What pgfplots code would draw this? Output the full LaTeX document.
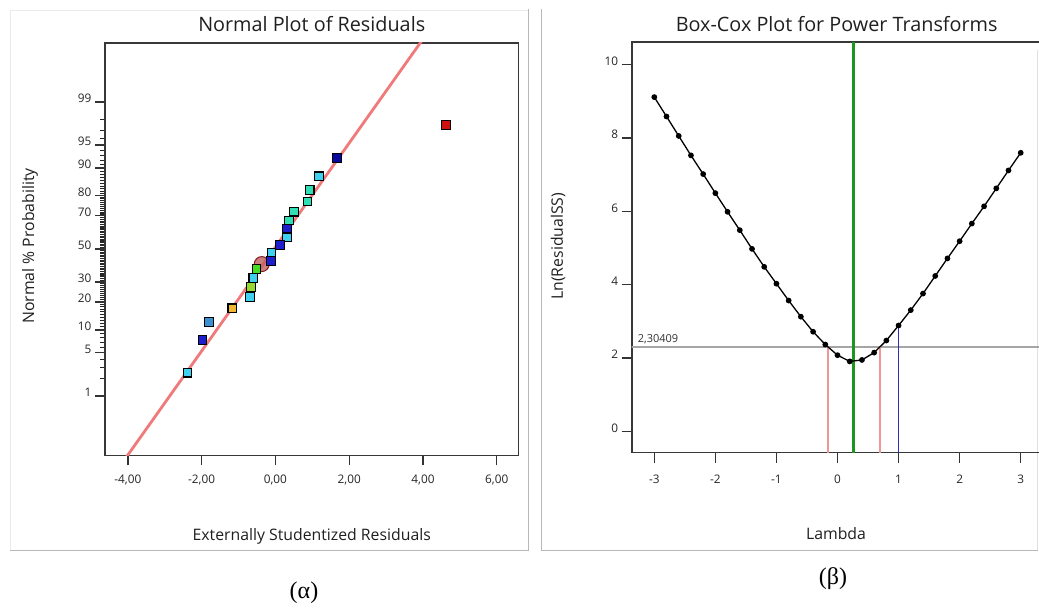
\documentclass[border=0pt]{standalone}
\usepackage{pgfplots}
\pgfplotsset{compat=1.18}
\usepackage{fontspec}
\setmainfont{Open Sans}
\newfontfamily\greekserif{Liberation Serif}
\definecolor{redline}{RGB}{240,122,122}
\definecolor{ccyan}{RGB}{64,208,240}
\definecolor{cblue}{RGB}{30,30,205}
\definecolor{csteel}{RGB}{58,144,208}
\definecolor{corange}{RGB}{240,184,48}
\definecolor{cygreen}{RGB}{150,216,48}
\definecolor{cgreen}{RGB}{64,224,32}
\definecolor{cturq}{RGB}{48,224,180}
\definecolor{cdblue}{RGB}{8,8,160}
\definecolor{cred}{RGB}{208,16,16}
\definecolor{circfill}{RGB}{190,95,95}
\definecolor{circdraw}{RGB}{130,30,30}
\definecolor{bcgreen}{RGB}{30,150,30}
\definecolor{bcpink}{RGB}{240,150,150}
\definecolor{bcblue}{RGB}{45,45,190}
\definecolor{bcgray}{RGB}{165,165,165}
\begin{document}
\begin{tikzpicture}
\useasboundingbox (0pt,0pt) rectangle (1039pt,610pt);
% panel frames
\draw[black!8, line width=0.8pt] (10pt,60pt) -- (10pt,600pt) -- (528.5pt,600pt);
\draw[black!28, line width=0.9pt] (10pt,60pt) -- (528.5pt,60pt) -- (528.5pt,601pt);
\draw[black!28, line width=0.9pt] (541.5pt,601pt) -- (541.5pt,60pt) -- (1037.5pt,60pt);
\draw[black!12, line width=0.8pt] (1037.5pt,60pt) -- (1037.5pt,560pt);
%
\begin{axis}[
  at={(105pt,154.5pt)}, anchor=south west, scale only axis,
  width=413.5pt, height=412.5pt,
  xmin=-4.62, xmax=6.59, ymin=-3.27, ymax=3.26,
  axis line style={black!78, line width=1.6pt},
  tick align=outside, xtick pos=bottom, ytick pos=left,
  major tick length=10pt, minor tick length=4.5pt,
  major tick style={black!80, line width=1.3pt},
  minor tick style={black!85, line width=1.1pt},
  xtick={-4,-2,0,2,4,6},
  xticklabels={{-4,00},{-2,00},{0,00},{2,00},{4,00},{6,00}},
  ytick={-2.3263,-1.6449,-1.2816,-0.8416,-0.5244,0,0.5244,0.8416,1.2816,1.6449,2.3263},
  yticklabels={1,5,10,20,30,50,70,80,90,95,99},
  minor ytick={-2.0537,-1.8808,-1.7507,-1.5548,-1.4758,-1.4051,-1.3408,-1.2265,-1.1750,-1.1264,-1.0803,-1.0364,-0.9945,-0.9542,-0.9154,-0.8779,-0.8064,-0.7722,-0.7388,-0.7063,-0.6745,-0.6433,-0.6128,-0.5828,-0.5534,-0.4959,-0.4677,-0.4399,-0.4125,-0.3853,-0.3585,-0.3319,-0.3055,-0.2793,-0.2533,-0.2275,-0.2019,-0.1764,-0.1510,-0.1257,-0.1004,-0.0753,-0.0502,-0.0251,0.0251,0.0502,0.0753,0.1004,0.1257,0.1510,0.1764,0.2019,0.2275,0.2533,0.2793,0.3055,0.3319,0.3585,0.3853,0.4125,0.4399,0.4677,0.4959,0.5534,0.5828,0.6128,0.6433,0.6745,0.7063,0.7388,0.7722,0.8064,0.8779,0.9154,0.9542,0.9945,1.0364,1.0803,1.1264,1.1750,1.2265,1.3408,1.4051,1.4758,1.5548,1.7507,1.8808,2.0537},
  tick label style={font=\fontsize{11.8}{13}\selectfont, text=black!85},
  xticklabel style={yshift=-6pt},
  yticklabel style={yshift=3.5pt},
  title={Normal Plot of Residuals},
  title style={at={(axis description cs:0.5,1.0436)}, anchor=center, yshift=-5pt, font=\fontsize{19.8}{23}\selectfont, text=black!88},
  xlabel={Externally Studentized Residuals},
  xlabel style={at={(axis description cs:0.5,-0.1918)}, anchor=center, yshift=-2pt, font=\fontsize{15.8}{18}\selectfont, text=black!88},
  ylabel={Normal \% Probability},
  ylabel style={at={(axis description cs:-0.1814,0.508)}, anchor=center, font=\fontsize{15.8}{18}\selectfont, text=black!88},
]
\addplot[no marks, line width=2.8pt, color=redline] coordinates {(-4.8,-3.92) (4.8,3.98)};
\addplot[only marks, mark=*, mark size=7.5pt, mark options={fill=circfill, draw=circdraw, line width=1pt, fill opacity=0.8}] coordinates {(-0.37,-0.24)};
\addplot[only marks, mark=square*, mark size=4.3pt, mark options={fill=ccyan, draw=black, line width=1.1pt}] coordinates {(-2.38,-1.96) (-0.69,-0.76) (-0.60,-0.46) (-0.11,-0.06) (0.31,0.19) (1.18,1.15)};
\addplot[only marks, mark=square*, mark size=4.3pt, mark options={fill=cblue, draw=black, line width=1.1pt}] coordinates {(-1.98,-1.44) (-0.12,-0.19) (0.12,0.06) (0.32,0.32)};
\addplot[only marks, mark=square*, mark size=4.3pt, mark options={fill=csteel, draw=black, line width=1.1pt}] coordinates {(-1.80,-1.16)};
\addplot[only marks, mark=square*, mark size=4.3pt, mark options={fill=corange, draw=black, line width=1.1pt}] coordinates {(-1.17,-0.94)};
\addplot[only marks, mark=square*, mark size=4.3pt, mark options={fill=cygreen, draw=black, line width=1.1pt}] coordinates {(-0.66,-0.60)};
\addplot[only marks, mark=square*, mark size=4.3pt, mark options={fill=cgreen, draw=black, line width=1.1pt}] coordinates {(-0.51,-0.32)};
\addplot[only marks, mark=square*, mark size=4.3pt, mark options={fill=cturq, draw=black, line width=1.1pt}] coordinates {(0.37,0.45) (0.51,0.59) (0.87,0.75) (0.93,0.93)};
\addplot[only marks, mark=square*, mark size=4.3pt, mark options={fill=cdblue, draw=black, line width=1.1pt}] coordinates {(1.67,1.44)};
\addplot[only marks, mark=square*, mark size=4.3pt, mark options={fill=cred, draw=black, line width=1.1pt}] coordinates {(4.63,1.96)};
\end{axis}
%
\begin{axis}[
  at={(631.7pt,157.3pt)}, anchor=south west, scale only axis,
  width=411.3pt, height=410.6pt,
  xmin=-3.37, xmax=3.365, ymin=-0.58, ymax=10.62,
  axis line style={black!78, line width=1.6pt},
  tick align=outside, xtick pos=bottom, ytick pos=left,
  major tick length=10pt,
  major tick style={black!80, line width=1.3pt},
  xtick={-3,-2,-1,0,1,2,3},
  xticklabels={-3,-2,-1,0,1,2,3},
  ytick={0,2,4,6,8,10},
  yticklabels={0,2,4,6,8,10},
  tick label style={font=\fontsize{11.8}{13}\selectfont, text=black!85},
  xticklabel style={yshift=-9pt},
  yticklabel style={yshift=3.5pt},
  title={Box-Cox Plot for Power Transforms},
  title style={at={(axis description cs:0.4984,1.0416)}, anchor=center, yshift=-5pt, font=\fontsize{19.8}{23}\selectfont, text=black!88},
  xlabel={Lambda},
  xlabel style={at={(axis description cs:0.4967,-0.198)}, anchor=center, font=\fontsize{15.8}{18}\selectfont, text=black!88},
  ylabel={Ln(ResidualSS)},
  ylabel style={at={(axis description cs:-0.179,0.503)}, anchor=center, font=\fontsize{15.8}{18}\selectfont, text=black!88},
]
\addplot[no marks, line width=1.6pt, color=bcgray] coordinates {(-3.5,2.30409) (3.5,2.30409)};
\addplot[no marks, line width=1.1pt, color=bcpink] coordinates {(-0.155,-1) (-0.155,2.30409)};
\addplot[no marks, line width=1.1pt, color=bcpink] coordinates {(0.696,-1) (0.696,2.30409)};
\addplot[no marks, line width=1.6pt, color=bcblue] coordinates {(1.0,-1) (1.0,2.89)};
\addplot[no marks, line width=3pt, color=bcgreen] coordinates {(0.27,-1) (0.27,11)};
\addplot[color=black, line width=1.3pt, mark=*, mark size=2.2pt, mark options={fill=black}] coordinates {
(-3.0,9.12) (-2.8,8.59) (-2.6,8.06) (-2.4,7.53) (-2.2,7.02) (-2.0,6.50) (-1.8,5.99) (-1.6,5.49) (-1.4,4.98) (-1.2,4.49) (-1.0,4.03) (-0.8,3.57) (-0.6,3.13) (-0.4,2.72) (-0.2,2.37) (0.0,2.08) (0.2,1.91) (0.4,1.95) (0.6,2.15) (0.8,2.48) (1.0,2.89) (1.2,3.31) (1.4,3.76) (1.6,4.24) (1.8,4.72) (2.0,5.19) (2.2,5.67) (2.4,6.14) (2.6,6.63) (2.8,7.12) (3.0,7.60)};
\node[anchor=south west, inner sep=1pt, font=\fontsize{11}{13}\selectfont, text=black!80] at (axis cs:-3.29,2.36) {2,30409};
\end{axis}
%
\node[font=\greekserif\fontsize{24}{28}\selectfont] at (304pt,17pt) {(α)};
\node[font=\greekserif\fontsize{24}{28}\selectfont] at (833pt,31pt) {(β)};
\end{tikzpicture}
\end{document}
